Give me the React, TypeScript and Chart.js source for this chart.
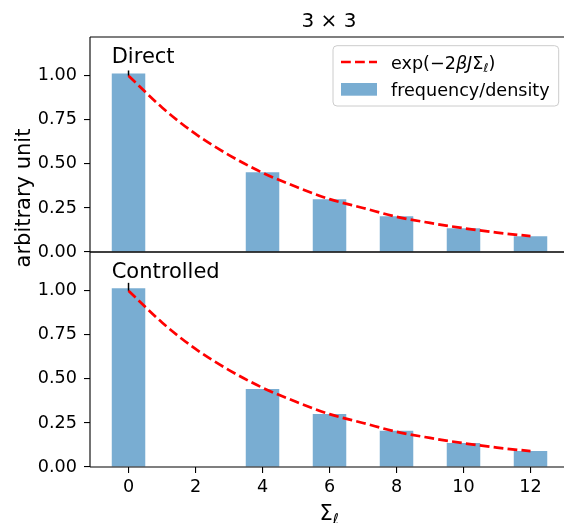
import React, { useEffect, useRef } from "react";
import { Chart, registerables } from "chart.js";

Chart.register(...registerables);

// ---- data ----
const sigmaValues = [0, 4, 6, 8, 10, 12];
const directFreq = [1.013, 0.453, 0.299, 0.203, 0.135, 0.089];
const controlledFreq = [1.015, 0.443, 0.301, 0.205, 0.136, 0.091];
const curveX = [0, 1, 2, 3, 4, 5, 6, 7, 8, 9, 10, 11, 12];
const curveY = [1.0, 0.82, 0.67, 0.55, 0.45, 0.37, 0.3, 0.25, 0.2, 0.165, 0.135, 0.11, 0.09];
const directErrY = [1.0, 1.03];
const controlledErrY = [1.0, 1.045];
const errX = [0, 0];
const xTickValues = [0, 2, 4, 6, 8, 10, 12];
const yTickValues = [0, 0.25, 0.5, 0.75, 1.0];

const W = 564;
const H = 523;
const LEFT = 90;
const TOP1 = 37;
const MID = 252;
const BOT2 = 467;
const FONT = '"DejaVu Sans", sans-serif';
const BAR_COLOR = "rgba(31,119,180,0.6)";
const DASH = [9.8, 4.2];

function drawFrame(chart: any) {
  const { ctx, chartArea } = chart;
  ctx.save();
  ctx.strokeStyle = "#000";
  ctx.lineWidth = 1.1;
  ctx.beginPath();
  ctx.moveTo(chartArea.left, chartArea.top);
  ctx.lineTo(chartArea.right + 5, chartArea.top);
  ctx.moveTo(chartArea.left, chartArea.top);
  ctx.lineTo(chartArea.left, chartArea.bottom);
  ctx.moveTo(chartArea.left, chartArea.bottom);
  ctx.lineTo(chartArea.right + 5, chartArea.bottom);
  ctx.stroke();
  ctx.restore();
}

function makeConfig(freq: number[], errY: number[], top: boolean) {
  const bars = sigmaValues.map((x, i) => ({ x, y: freq[i] }));
  const curve = curveX.map((x, i) => ({ x, y: curveY[i] }));
  const err = errX.map((x, i) => ({ x, y: errY[i] }));
  const plugin = {
    id: top ? "decoTop" : "decoBottom",
    afterDraw(chart: any) {
      const { ctx } = chart;
      drawFrame(chart);
      ctx.save();
      ctx.fillStyle = "#000";
      ctx.textAlign = "left";
      ctx.textBaseline = "alphabetic";
      ctx.font = `21px ${FONT}`;
      if (top) {
        ctx.fillText("Direct", 111.7, 63.3);
        // title
        ctx.textAlign = "center";
        ctx.font = `20px ${FONT}`;
        ctx.fillText("3 × 3", 329, 27);
        // y label
        ctx.save();
        ctx.translate(25, 198);
        ctx.rotate(-Math.PI / 2);
        ctx.textAlign = "center";
        ctx.textBaseline = "middle";
        ctx.font = `21px ${FONT}`;
        ctx.fillText("arbitrary unit", 0, 0);
        ctx.restore();
        // legend
        const bx = 333, by = 45.7, bw = 225.7, bh = 60.3, r = 4;
        ctx.beginPath();
        ctx.moveTo(bx + r, by);
        ctx.lineTo(bx + bw - r, by);
        ctx.quadraticCurveTo(bx + bw, by, bx + bw, by + r);
        ctx.lineTo(bx + bw, by + bh - r);
        ctx.quadraticCurveTo(bx + bw, by + bh, bx + bw - r, by + bh);
        ctx.lineTo(bx + r, by + bh);
        ctx.quadraticCurveTo(bx, by + bh, bx, by + bh - r);
        ctx.lineTo(bx, by + r);
        ctx.quadraticCurveTo(bx, by, bx + r, by);
        ctx.closePath();
        ctx.fillStyle = "rgba(255,255,255,0.8)";
        ctx.fill();
        ctx.strokeStyle = "#cccccc";
        ctx.lineWidth = 1;
        ctx.stroke();
        // line sample
        ctx.save();
        ctx.strokeStyle = "#ff0000";
        ctx.lineWidth = 2.6;
        ctx.setLineDash(DASH);
        ctx.beginPath();
        ctx.moveTo(341, 62);
        ctx.lineTo(377, 62);
        ctx.stroke();
        ctx.restore();
        // patch sample
        ctx.fillStyle = BAR_COLOR;
        ctx.fillRect(341, 83, 36, 12.7);
        // texts
        ctx.fillStyle = "#000";
        ctx.textAlign = "left";
        ctx.textBaseline = "alphabetic";
        const fs = 17.6;
        let x = 391;
        const base1 = 68.5;
        const parts: [string, string, number, number][] = [
          ["exp(−2", "", fs, 0],
          ["βJ", "italic ", fs, 0],
          ["Σ", "", fs, 0],
          ["ℓ", "italic ", fs * 0.7, 3.5],
          [")", "", fs, 0],
        ];
        for (const [t, st, size, dy] of parts) {
          ctx.font = `${st}${size}px ${FONT}`;
          ctx.fillText(t, x, base1 + dy);
          x += ctx.measureText(t).width;
        }
        ctx.font = `${fs}px ${FONT}`;
        ctx.fillText("frequency/density", 391, 95.5);
      } else {
        ctx.fillText("Controlled", 111.7, 278.3);
        // x label
        ctx.font = `21px ${FONT}`;
        ctx.fillText("Σ", 319.5, 520);
        const w = ctx.measureText("Σ").width;
        ctx.font = `italic 14.7px ${FONT}`;
        ctx.fillText("ℓ", 319.5 + w, 524);
      }
      ctx.restore();
    },
  };

  return {
    type: "bar",
    data: {
      datasets: [
        {
          type: "line",
          data: curve,
          borderColor: "#ff0000",
          borderWidth: 2.7,
          borderDash: DASH,
          pointRadius: 0,
          cubicInterpolationMode: "monotone",
          fill: false,
          order: 0,
        },
        {
          type: "line",
          data: err,
          borderColor: "#000000",
          borderWidth: 1.5,
          pointRadius: 0,
          fill: false,
          order: 1,
        },
        {
          type: "bar",
          data: bars,
          backgroundColor: BAR_COLOR,
          borderWidth: 0,
          barPercentage: 0.5,
          categoryPercentage: 1,
          order: 2,
        },
      ],
    },
    options: {
      responsive: false,
      animation: false,
      devicePixelRatio: 1,
      layout: { padding: { top: top ? TOP1 : MID, left: 0, right: 0, bottom: 0 } },
      plugins: { legend: { display: false }, tooltip: { enabled: false }, title: { display: false } },
      scales: {
        x: {
          type: "linear",
          min: -1.15,
          max: 13.0,
          offset: false,
          afterBuildTicks: (s: any) => {
            s.ticks = xTickValues.map((v) => ({ value: v }));
          },
          afterFit: (s: any) => {
            s.height = top ? H - MID : H - BOT2;
          },
          grid: {
            display: !top,
            offset: false,
            drawOnChartArea: false,
            drawTicks: true,
            tickLength: 6,
            color: "#000",
            lineWidth: 1.1,
          },
          border: { display: false },
          ticks: {
            display: !top,
            color: "#000",
            font: { family: FONT, size: 17.6 },
            padding: 4,
            maxRotation: 0,
            autoSkip: false,
            includeBounds: false,
          },
        },
        y: {
          type: "linear",
          min: 0,
          max: 1.22,
          afterBuildTicks: (s: any) => {
            s.ticks = yTickValues.map((v) => ({ value: v }));
          },
          afterFit: (s: any) => {
            s.width = LEFT;
          },
          grid: {
            display: true,
            drawOnChartArea: false,
            drawTicks: true,
            tickLength: 6,
            color: "#000",
            lineWidth: 1.1,
          },
          border: { display: false },
          ticks: {
            color: "#000",
            font: { family: FONT, size: 17.6 },
            padding: 7,
            callback: (v: any) => Number(v).toFixed(2),
            autoSkip: false,
            includeBounds: false,
          },
        },
      },
    },
    plugins: [plugin],
  } as any;
}

function Panel({ top }: { top: boolean }) {
  const ref = useRef<HTMLCanvasElement | null>(null);
  useEffect(() => {
    if (!ref.current) return;
    const chart = new Chart(
      ref.current,
      makeConfig(top ? directFreq : controlledFreq, top ? directErrY : controlledErrY, top)
    );
    return () => chart.destroy();
  }, [top]);
  return (
    <canvas
      ref={ref}
      width={W}
      height={H}
      style={{ position: "absolute", left: 0, top: 0, width: W, height: H }}
    />
  );
}

export default function App() {
  return (
    <div
      style={{
        position: "fixed",
        left: 0,
        top: 0,
        width: W,
        height: H,
        background: "#ffffff",
        overflow: "hidden",
      }}
    >
      <Panel top={true} />
      <Panel top={false} />
    </div>
  );
}
